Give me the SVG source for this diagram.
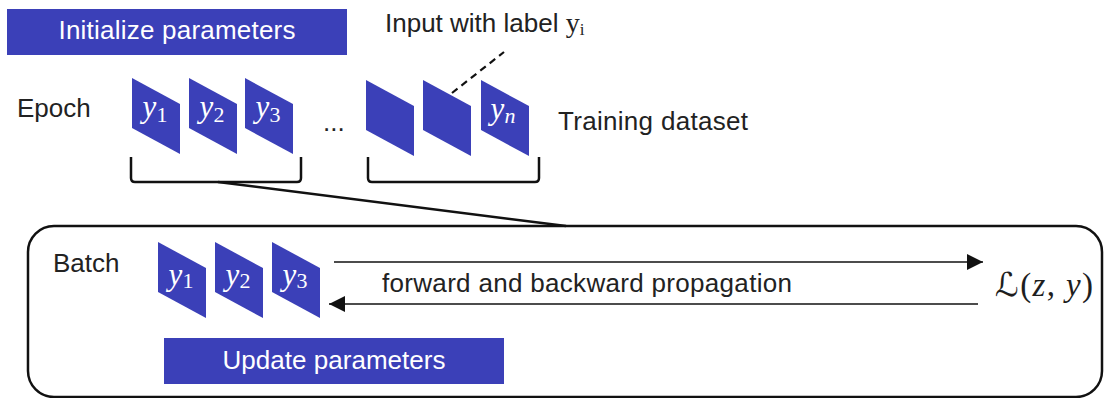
<svg xmlns="http://www.w3.org/2000/svg" xmlns:xlink="http://www.w3.org/1999/xlink" width="1104" height="398" viewBox="0 0 1104 398">
<style>
.sans{font-family:"Liberation Sans",Arial,sans-serif;font-size:26px;fill:#222222}
.wsans{font-family:"Liberation Sans",Arial,sans-serif;font-size:26px;fill:#ffffff}
.math{font-family:"Liberation Serif","Times New Roman",serif;font-size:31px;fill:#ffffff}
.blue{fill:#3b40b8}
.line{stroke:#111;fill:none}
</style>
<defs>
<path id="card" class="blue" d="M0,0 L48,26 L48,76 L0,50 Z"/>
<marker id="ah" markerUnits="userSpaceOnUse" markerWidth="16" markerHeight="16" refX="16" refY="8" orient="auto">
<path d="M0,0 L16,8 L0,16 Z" fill="#111"/>
</marker>
</defs>
<rect width="1104" height="398" fill="#ffffff"/>

<g id="init">
<rect x="7" y="9" width="340" height="46" class="blue"/>
<text x="177" y="39" class="wsans" text-anchor="middle" textLength="237">Initialize parameters</text>
</g>

<g id="epoch-label"><text x="17" y="117" class="sans">Epoch</text></g>
<g id="input-label"><text x="385" y="32" class="sans">Input with label <tspan font-family="Liberation Serif,serif" font-size="28">y</tspan><tspan font-family="Liberation Serif,serif" font-size="17" dy="3">i</tspan></text></g>
<g id="training-label"><text x="558" y="130" class="sans" textLength="190">Training dataset</text></g>

<g id="epoch-y1"><use xlink:href="#card" x="132" y="78"/><text x="155" y="117" class="math" text-anchor="middle"><tspan font-style="italic">y</tspan><tspan font-size="22" dy="5">1</tspan></text></g>
<g id="epoch-y2"><use xlink:href="#card" x="189" y="78"/><text x="212" y="117" class="math" text-anchor="middle"><tspan font-style="italic">y</tspan><tspan font-size="22" dy="5">2</tspan></text></g>
<g id="epoch-y3"><use xlink:href="#card" x="245" y="78"/><text x="268" y="117" class="math" text-anchor="middle"><tspan font-style="italic">y</tspan><tspan font-size="22" dy="5">3</tspan></text></g>
<g id="dots"><text x="323" y="131" class="sans">...</text></g>
<g id="epoch-a"><use xlink:href="#card" x="366" y="80"/></g>
<g id="epoch-b"><use xlink:href="#card" x="423" y="80"/></g>
<g id="epoch-yn"><use xlink:href="#card" x="481" y="80"/><text x="503" y="119" class="math" text-anchor="middle"><tspan font-style="italic">y</tspan><tspan font-size="22" font-style="italic" dy="4">n</tspan></text></g>

<g id="batch">
<rect x="28" y="226" width="1074" height="171" rx="26" ry="26" class="line" stroke-width="2.5"/>
<text x="53" y="272" class="sans">Batch</text>
</g>
<g id="batch-y1"><use xlink:href="#card" x="158" y="242"/><text x="181" y="285" class="math" text-anchor="middle"><tspan font-style="italic">y</tspan><tspan font-size="22" dy="3">1</tspan></text></g>
<g id="batch-y2"><use xlink:href="#card" x="215" y="242"/><text x="238" y="285" class="math" text-anchor="middle"><tspan font-style="italic">y</tspan><tspan font-size="22" dy="3">2</tspan></text></g>
<g id="batch-y3"><use xlink:href="#card" x="272" y="242"/><text x="295" y="285" class="math" text-anchor="middle"><tspan font-style="italic">y</tspan><tspan font-size="22" dy="3">3</tspan></text></g>
<g id="loss"><text x="995" y="296" font-family="Liberation Serif,serif" font-size="33" fill="#1e1e1e" textLength="98"><tspan font-family="DejaVu Serif,DejaVu Sans,serif" font-style="italic">ℒ</tspan>(<tspan font-style="italic">z</tspan>, <tspan font-style="italic">y</tspan>)</text></g>
<g id="update">
<rect x="164" y="338" width="340" height="46" class="blue"/>
<text x="334" y="369" class="wsans" text-anchor="middle" textLength="223">Update parameters</text>
</g>

<g id="connectors">
<path d="M131,157 L131,178 Q131,182 135,182 L297,182 Q301,182 301,178 L301,157" class="line" stroke-width="2.5"/>
<path d="M368,157 L368,178 Q368,182 372,182 L535,182 Q539,182 539,178 L539,157" class="line" stroke-width="2.5"/>
<line x1="218" y1="182" x2="566" y2="226" class="line" stroke-width="2.5"/>
<line x1="452" y1="93" x2="504" y2="52" class="line" stroke-width="2.2" stroke-dasharray="7,5"/>
<line x1="334" y1="262" x2="983" y2="262" class="line" stroke-width="1.6" marker-end="url(#ah)"/>
<line x1="978" y1="304" x2="329" y2="304" class="line" stroke-width="1.6" marker-end="url(#ah)"/>
<text x="382" y="292" class="sans" textLength="410">forward and backward propagation</text>
</g>
</svg>
